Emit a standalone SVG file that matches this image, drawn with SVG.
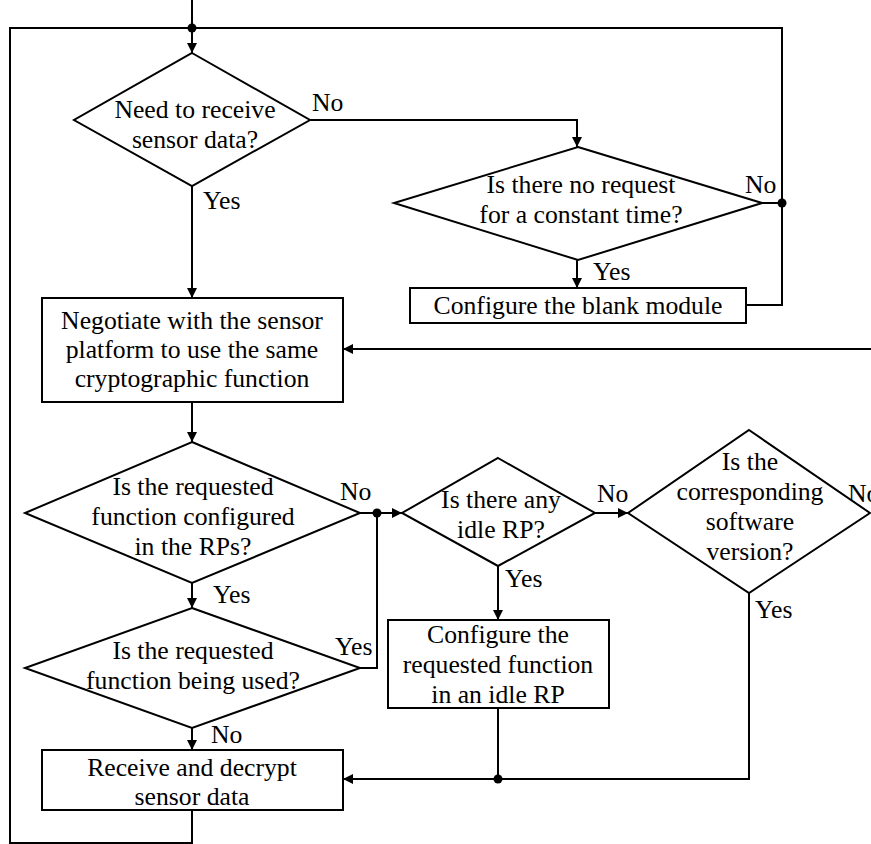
<svg xmlns="http://www.w3.org/2000/svg" width="871" height="844" viewBox="0 0 871 844">
  <style>
    .shape { fill: #fff; stroke: #000; stroke-width: 2; }
    .wire { fill: none; stroke: #000; stroke-width: 2; }
    .arrow { marker-end: url(#head); }
    .dot { fill: #000; }
    text { font-family: "Liberation Serif", "Times New Roman", serif; font-size: 25.7px; fill: #000; }
    .c { text-anchor: middle; }
  </style>
  <defs>
    <marker id="head" viewBox="0 0 10 10" refX="10" refY="5" markerWidth="10" markerHeight="10" markerUnits="userSpaceOnUse" orient="auto">
      <path d="M0,0 L10,5 L0,10 z" fill="#000"/>
    </marker>
  </defs>
  <rect width="871" height="844" fill="#fff"/>

  <g id="connectors">
    <path class="wire arrow" d="M192,0 V53"/>
    <path class="wire" d="M746,305 H782 V28 H192"/>
    <path class="wire" d="M762,203 H782"/>
    <path class="wire" d="M192,810 V843 H10 V28 H192"/>
    <path class="wire arrow" d="M310,120 H577 V147"/>
    <path class="wire arrow" d="M192,186 V298"/>
    <path class="wire arrow" d="M577,260 V288"/>
    <path class="wire arrow" d="M871,349 H343"/>
    <path class="wire arrow" d="M192,402 V442"/>
    <path class="wire arrow" d="M360,513 H402"/>
    <path class="wire arrow" d="M192,583 V608"/>
    <path class="wire" d="M360,668 H377 V513"/>
    <path class="wire arrow" d="M192,728 V750"/>
    <path class="wire arrow" d="M595,513 H628"/>
    <path class="wire arrow" d="M498,566 V620"/>
    <path class="wire" d="M498,708 V779"/>
    <path class="wire arrow" d="M749,593 V779 H343"/>
    <circle class="dot" cx="192" cy="28" r="4.5"/>
    <circle class="dot" cx="782" cy="203" r="4.5"/>
    <circle class="dot" cx="377" cy="513" r="4.5"/>
    <circle class="dot" cx="498" cy="779" r="4.5"/>
  </g>

  <g id="labels">
    <text x="312" y="111">No</text>
    <text x="203" y="209">Yes</text>
    <text x="745" y="193">No</text>
    <text x="593" y="280">Yes</text>
    <text x="340" y="500">No</text>
    <text x="213" y="603">Yes</text>
    <text x="335" y="655">Yes</text>
    <text x="211" y="743">No</text>
    <text x="597" y="502">No</text>
    <text x="505" y="587">Yes</text>
    <text x="848" y="502">No</text>
    <text x="755" y="618">Yes</text>
  </g>

  <g id="need-data">
    <polygon class="shape" points="192,53 310,120 192,186 74,120"/>
    <text class="c" x="195" y="118">Need to receive</text>
    <text class="c" x="195" y="148">sensor data?</text>
  </g>

  <g id="no-request">
    <polygon class="shape" points="578,147 762,203 578,260 394,203"/>
    <text class="c" x="581" y="193">Is there no request</text>
    <text class="c" x="581" y="223">for a constant time?</text>
  </g>

  <g id="blank-module">
    <rect class="shape" x="410" y="288" width="336" height="35"/>
    <text class="c" x="578" y="314">Configure the blank module</text>
  </g>

  <g id="negotiate">
    <rect class="shape" x="42" y="298" width="301" height="104"/>
    <text class="c" x="192" y="329">Negotiate with the sensor</text>
    <text class="c" x="192" y="358">platform to use the same</text>
    <text class="c" x="192" y="387">cryptographic function</text>
  </g>

  <g id="configured">
    <polygon class="shape" points="192,442 360,513 192,583 25,513"/>
    <text class="c" x="193" y="495">Is the requested</text>
    <text class="c" x="193" y="525">function configured</text>
    <text class="c" x="193" y="555">in the RPs?</text>
  </g>

  <g id="being-used">
    <polygon class="shape" points="192,608 360,668 192,728 25,668"/>
    <text class="c" x="193" y="659">Is the requested</text>
    <text class="c" x="193" y="689">function being used?</text>
  </g>

  <g id="idle-rp">
    <polygon class="shape" points="498,458 595,513 498,566 402,513"/>
    <text class="c" x="501" y="508">Is there any</text>
    <text class="c" x="501" y="538">idle RP?</text>
  </g>

  <g id="software-version">
    <polygon class="shape" points="749,430 870,513 749,593 628,513"/>
    <text class="c" x="750" y="470">Is the</text>
    <text class="c" x="750" y="500">corresponding</text>
    <text class="c" x="750" y="530">software</text>
    <text class="c" x="750" y="560">version?</text>
  </g>

  <g id="configure-idle">
    <rect class="shape" x="388" y="620" width="221" height="88"/>
    <text class="c" x="498" y="643">Configure the</text>
    <text class="c" x="498" y="673">requested function</text>
    <text class="c" x="498" y="703">in an idle RP</text>
  </g>

  <g id="receive">
    <rect class="shape" x="42" y="750" width="301" height="60"/>
    <text class="c" x="192" y="776">Receive and decrypt</text>
    <text class="c" x="192" y="805">sensor data</text>
  </g>
</svg>
